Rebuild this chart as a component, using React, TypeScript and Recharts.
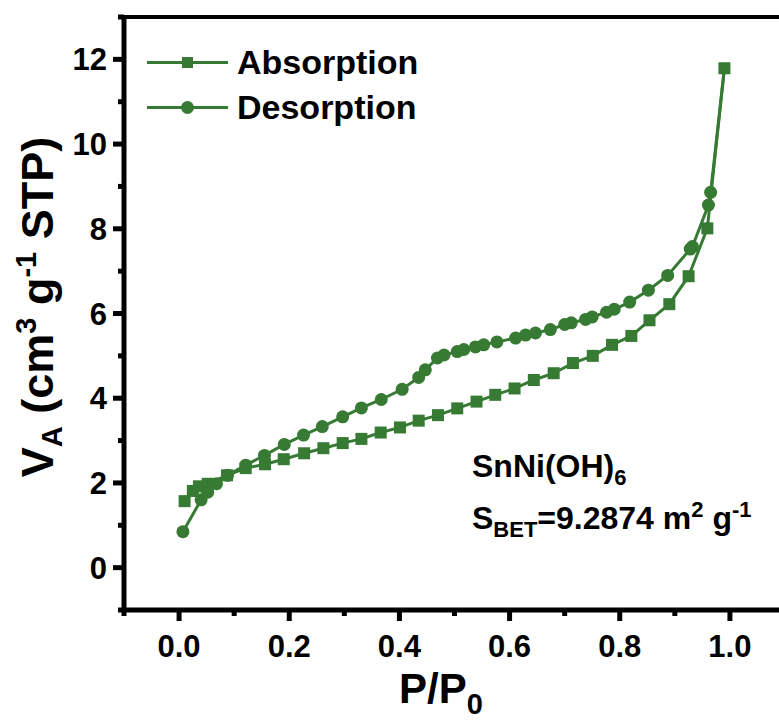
import React from 'react';
import { LineChart, Line, XAxis, YAxis, Legend, ReferenceLine } from 'recharts';

// adsorption branch (squares)
const adsP = [0.010, 0.025, 0.036, 0.052, 0.087, 0.121, 0.156, 0.190, 0.227, 0.262, 0.297, 0.331, 0.366, 0.401, 0.435, 0.470, 0.505, 0.540, 0.574, 0.609, 0.644, 0.680, 0.715, 0.751, 0.786, 0.821, 0.854, 0.890, 0.925, 0.959, 0.990];
const adsV = [1.57, 1.81, 1.92, 1.98, 2.18, 2.35, 2.44, 2.56, 2.70, 2.82, 2.94, 3.04, 3.19, 3.31, 3.47, 3.60, 3.76, 3.92, 4.08, 4.23, 4.43, 4.59, 4.83, 5.00, 5.26, 5.47, 5.84, 6.22, 6.88, 8.01, 11.79];

// desorption branch (circles), from the top point downwards
const desP = [0.990, 0.965, 0.961, 0.932, 0.928, 0.887, 0.852, 0.818, 0.790, 0.776, 0.750, 0.738, 0.712, 0.700, 0.674, 0.647, 0.629, 0.611, 0.577, 0.553, 0.538, 0.517, 0.505, 0.481, 0.469, 0.447, 0.435, 0.405, 0.367, 0.331, 0.297, 0.260, 0.226, 0.191, 0.155, 0.121, 0.088, 0.068, 0.052, 0.040, 0.007];
const desV = [11.79, 8.86, 8.56, 7.58, 7.52, 6.90, 6.55, 6.27, 6.10, 6.03, 5.92, 5.86, 5.78, 5.74, 5.62, 5.54, 5.49, 5.42, 5.33, 5.26, 5.21, 5.15, 5.10, 5.02, 4.95, 4.67, 4.49, 4.21, 3.97, 3.77, 3.56, 3.33, 3.13, 2.91, 2.65, 2.42, 2.18, 1.98, 1.78, 1.60, 0.85];

const xTicks = [-0.1, 0, 0.1, 0.2, 0.3, 0.4, 0.5, 0.6, 0.7, 0.8, 0.9, 1.0, 1.1];
const yTicks = [-1, 0, 1, 2, 3, 4, 5, 6, 7, 8, 9, 10, 11, 12, 13];
const legendNames = ['Absorption', 'Desorption'];

const GREEN = '#367a33';
const FONT = '"Liberation Sans", Arial, Helvetica, sans-serif';

const adsData = adsP.map((p, i) => ({ p, v: adsV[i] }));
const desData = desP.map((p, i) => ({ p, v: desV[i] }));

function XTick(props: any) {
  const { x, y, payload } = props;
  const n = Math.round(payload.value * 10);
  const major = n % 2 === 0;
  return (
    <g>
      <line x1={x} x2={x} y1={y} y2={y + (major ? 11 : 6)} stroke="#000" strokeWidth={5} />
      {major && (
        <text x={x} y={y + 47} textAnchor="middle" fontFamily={FONT} fontWeight="bold" fontSize={31} fill="#000">
          {payload.value.toFixed(1)}
        </text>
      )}
    </g>
  );
}

function YTick(props: any) {
  const { x, y, payload } = props;
  const major = payload.value % 2 === 0 && payload.value >= 0 && payload.value <= 12;
  return (
    <g>
      <line x1={x} x2={x - (major ? 11 : 6)} y1={y} y2={y} stroke="#000" strokeWidth={5} />
      {major && (
        <text x={x - 17} y={y + 11} textAnchor="end" fontFamily={FONT} fontWeight="bold" fontSize={31} fill="#000">
          {payload.value}
        </text>
      )}
    </g>
  );
}

const XTitle = () => (
  <text x={441} y={703} textAnchor="middle" fontFamily={FONT} fontWeight="bold" fontSize={42} fill="#000">
    P/P<tspan fontSize={29} dy={11}>0</tspan>
  </text>
);

const YTitle = () => (
  <text x={53} y={307} transform="rotate(-90 53 307)" textAnchor="middle" fontFamily={FONT} fontWeight="bold" fontSize={45} fill="#000">
    V<tspan fontSize={29} dy={9}>A</tspan>
    <tspan dy={-9}>{' (cm'}</tspan>
    <tspan fontSize={29} dy={-17}>3</tspan>
    <tspan dy={17}>{' g'}</tspan>
    <tspan fontSize={29} dy={-17}>-1</tspan>
    <tspan dy={17}>{' STP)'}</tspan>
  </text>
);

const SquareDot = (props: any) => {
  const { cx, cy, index } = props;
  if (cx == null || cy == null) return <g key={index} />;
  return <rect key={index} x={cx - 6} y={cy - 6} width={12} height={12} fill={GREEN} />;
};

const CircleDot = (props: any) => {
  const { cx, cy, index } = props;
  // the shared top point is drawn as a square by the adsorption branch
  if (cx == null || cy == null || index === 0) return <g key={index} />;
  return <circle key={index} cx={cx} cy={cy} r={6.5} fill={GREEN} />;
};

const renderLegend = () => (
  <div style={{ fontFamily: FONT, fontWeight: 'bold', fontSize: 34, color: '#000' }}>
    {legendNames.map((name, i) => (
      <div key={name} style={{ display: 'flex', alignItems: 'center', height: 45 }}>
        <svg width={81} height={45}>
          <line x1={0} x2={81} y1={22.5} y2={22.5} stroke={GREEN} strokeWidth={3} />
          {i === 0 ? (
            <rect x={35} y={17} width={11} height={11} fill={GREEN} />
          ) : (
            <circle cx={40.5} cy={22.5} r={6.5} fill={GREEN} />
          )}
        </svg>
        <span style={{ marginLeft: 9, lineHeight: '45px' }}>{name}</span>
      </div>
    ))}
  </div>
);

const noteStyle: React.CSSProperties = {
  position: 'absolute',
  left: 472,
  fontFamily: FONT,
  fontWeight: 'bold',
  fontSize: 32,
  lineHeight: '32px',
  color: '#000',
  whiteSpace: 'nowrap',
};
const subStyle: React.CSSProperties = { fontSize: 22, position: 'relative', top: 8 };
const supStyle: React.CSSProperties = { fontSize: 22, position: 'relative', top: -12 };

export default function App() {
  return (
    <div style={{ position: 'absolute', left: 0, top: 0, width: 779, height: 720, overflow: 'hidden', background: '#fff' }}>
      <LineChart width={800} height={720} margin={{ top: 17, right: 15, bottom: 0, left: 0 }}>
        <XAxis
          dataKey="p"
          type="number"
          domain={[-0.1, 1.1]}
          ticks={xTicks}
          interval={0}
          height={110}
          tickSize={0}
          tickMargin={0}
          tickLine={false}
          axisLine={{ stroke: '#000', strokeWidth: 5 }}
          tick={<XTick />}
          label={<XTitle />}
        />
        <YAxis
          type="number"
          domain={[-1, 13]}
          ticks={yTicks}
          interval={0}
          width={124}
          tickSize={0}
          tickMargin={0}
          tickLine={false}
          axisLine={{ stroke: '#000', strokeWidth: 5 }}
          tick={<YTick />}
          label={<YTitle />}
        />
        <ReferenceLine y={13} stroke="#000" strokeWidth={4} />
        <Legend
          layout="vertical"
          align="center"
          verticalAlign="middle"
          content={renderLegend}
          wrapperStyle={{ left: 147, top: 40, width: 'auto', height: 'auto' }}
        />
        <Line
          data={adsData}
          dataKey="v"
          name="Absorption"
          stroke={GREEN}
          strokeWidth={3}
          dot={SquareDot}
          activeDot={false}
          isAnimationActive={false}
        />
        <Line
          data={desData}
          dataKey="v"
          name="Desorption"
          stroke={GREEN}
          strokeWidth={3}
          dot={CircleDot}
          activeDot={false}
          isAnimationActive={false}
        />
      </LineChart>
      <div style={{ ...noteStyle, top: 450 }}>
        SnNi(OH)<span style={subStyle}>6</span>
      </div>
      <div style={{ ...noteStyle, top: 502 }}>
        S<span style={subStyle}>BET</span>=9.2874 m<span style={supStyle}>2</span> g<span style={supStyle}>-1</span>
      </div>
    </div>
  );
}
